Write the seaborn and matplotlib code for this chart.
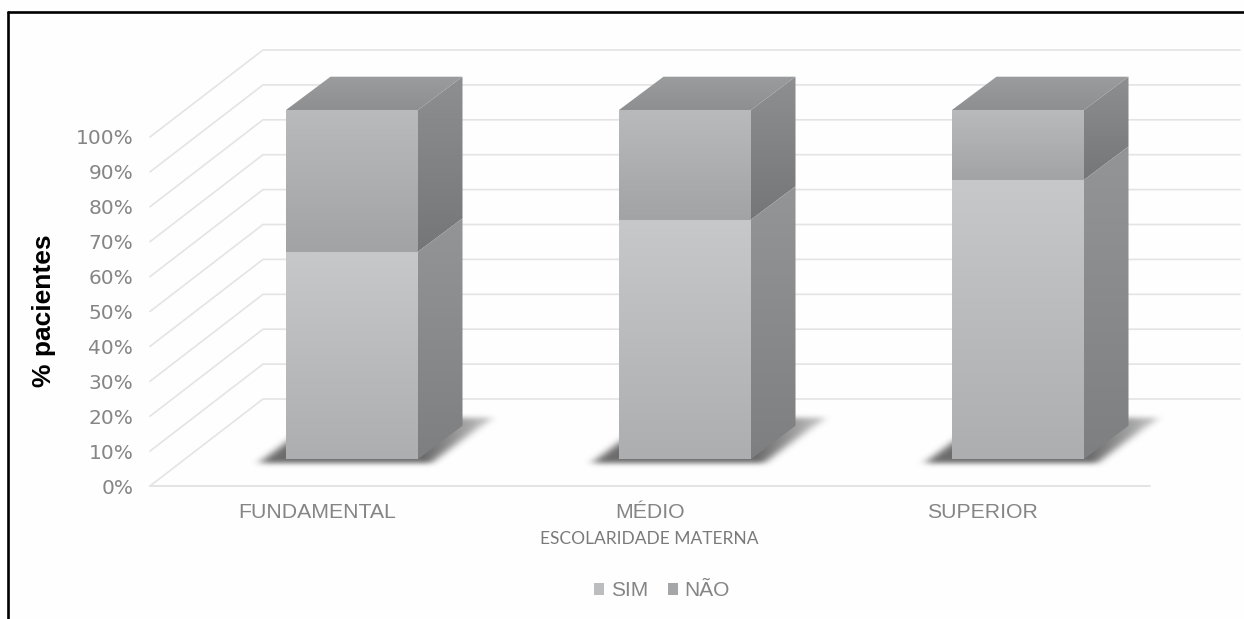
import numpy as np
import pandas as pd
import matplotlib
matplotlib.use("Agg")
import matplotlib.pyplot as plt
import seaborn as sns
from matplotlib.colors import to_rgb, LinearSegmentedColormap
from matplotlib.lines import Line2D
from matplotlib.patches import Patch, Polygon
from matplotlib.transforms import ScaledTranslation

categories = ["FUNDAMENTAL", "MÉDIO", "SUPERIOR"]
sim_values = [59.4, 68.6, 80.0]
nao_values = [40.6, 31.4, 20.0]
y_ticks = list(range(0, 101, 10))
y_tick_labels = [f"{v}%" for v in y_ticks]

W, H, DPI = 1244, 619, 100
L_PX, R_PX, Y0_PX, Y100_PX = 150, 1150, 486, 137
PX_X = 333.0            # pixels per category
PX_Y = (Y0_PX - Y100_PX) / 100.0   # pixels per percent
BAR_W = 132 / PX_X
BASE = 27 / PX_Y        # bars stand on the floor, set back from the front edge
BDX, BDY = 44.5 / PX_X, 33.3 / PX_Y   # bar depth
WDX, WDY = 113 / PX_X, 87 / PX_Y      # wall depth

sns.set_theme(style="white")
fig = plt.figure(figsize=(W / DPI, H / DPI), dpi=DPI, facecolor="#fefefe")
ax = fig.add_axes([L_PX / W, 1 - Y0_PX / H, (R_PX - L_PX) / W, (Y0_PX - Y100_PX) / H])
ax.patch.set_alpha(0)

df = pd.DataFrame({"cat": categories, "sim": sim_values,
                   "total": np.add(sim_values, nao_values)})
sns.barplot(df, x="cat", y="total", bottom=BASE, width=BAR_W, color="#adaeb0",
            saturation=1, ax=ax, order=categories, zorder=4, linewidth=0)
n_total = len(ax.patches)
sns.barplot(df, x="cat", y="sim", bottom=BASE, width=BAR_W, color="#bdbec0",
            saturation=1, ax=ax, order=categories, zorder=4, linewidth=0)

XLIM = (-(352 - L_PX) / PX_X, (R_PX - 352) / PX_X)
ax.set_xlim(*XLIM)
ax.set_ylim(0, 100)


def grad_face(verts, top, bottom, z):
    verts = np.asarray(verts)
    c0, c1 = np.array(to_rgb(top)), np.array(to_rgb(bottom))
    cmap = LinearSegmentedColormap.from_list("g", [c0, c1])
    im = ax.imshow(np.linspace(0, 1, 128)[:, None], cmap=cmap, aspect="auto",
                   extent=(verts[:, 0].min(), verts[:, 0].max(),
                           verts[:, 1].min(), verts[:, 1].max()),
                   origin="upper", zorder=z)
    poly = Polygon(verts, closed=True, transform=ax.transData,
                   fc="none", ec="none")
    im.set_clip_box(fig.bbox)
    im.set_clip_path(poly)


def box_blur(a, r, axis):
    kernel = np.ones(2 * r + 1) / (2 * r + 1)
    return np.apply_along_axis(lambda m: np.convolve(m, kernel, mode="same"), axis, a)


def soft_shadow(x0, x1, y0):
    """Blurred parallelogram on the floor, in pixels relative to the bar's base."""
    w_px = (x1 - x0) * PX_X
    us = np.arange(-70, w_px + 120)
    vs = np.arange(-25, 75)
    U, V = np.meshgrid(us, vs)
    bottom, top = -4, 41
    slope = 1.33
    left = -27 + slope * (V - bottom)
    right = w_px + 14 + slope * (V - bottom)
    mask = ((V >= bottom) & (V <= top) & (U >= left) & (U <= right)).astype(float)
    for _ in range(3):
        mask = box_blur(mask, 4, 1)
    for _ in range(3):
        mask = box_blur(mask, 2, 0)
    # a little softer towards the far right end
    fade = np.clip(1.05 - (U - w_px) / 110.0, 0.5, 1.0)
    rgba = np.zeros(mask.shape + (4,))
    rgba[..., :3] = 0.42
    rgba[..., 3] = np.clip(mask * fade, 0, 1)
    ax.imshow(rgba, origin="lower", aspect="auto", zorder=2,
              extent=(x0 + us[0] / PX_X, x0 + us[-1] / PX_X,
                      y0 + vs[0] / PX_Y, y0 + vs[-1] / PX_Y),
              clip_on=False)


# gridlines on the floor / back wall
grid_c = "#e4e4e4"
for v in y_ticks:
    xs = [XLIM[0], XLIM[0] + WDX, XLIM[1] + 90 / PX_X]
    ys = [v, v + WDY, v + WDY]
    ax.plot(xs, ys, color=grid_c, lw=1.2, clip_on=False, zorder=1)
ax.plot(XLIM, [0, 0], color=grid_c, lw=1.4, clip_on=False, zorder=1)

# soft shadows under bars and 3D faces
patches = list(ax.patches)
for i, cat in enumerate(categories):
    total_bar = patches[i]
    sim_bar = patches[n_total + i]
    x0 = total_bar.get_x()
    x1 = x0 + total_bar.get_width()
    y0 = total_bar.get_y()
    ytop = y0 + total_bar.get_height()
    ysplit = y0 + sim_bar.get_height()

    soft_shadow(x0, x1, y0)

    # front faces with vertical gradient
    grad_face([(x0, ysplit), (x1, ysplit), (x1, ytop), (x0, ytop)], "#b9babc", "#a2a3a5", 5)
    grad_face([(x0, y0), (x1, y0), (x1, ysplit), (x0, ysplit)], "#c7c8c9", "#adaeb0", 5)
    # side faces
    grad_face([(x1, ysplit), (x1 + BDX, ysplit + BDY), (x1 + BDX, ytop + BDY), (x1, ytop)],
              "#8e8f91", "#757678", 5)
    grad_face([(x1, y0), (x1 + BDX, y0 + BDY), (x1 + BDX, ysplit + BDY), (x1, ysplit)],
              "#949597", "#7e7f81", 5)
    # top face
    grad_face([(x0, ytop), (x1, ytop), (x1 + BDX, ytop + BDY), (x0 + BDX, ytop + BDY)],
              "#9b9c9e", "#8e8f91", 5)
    total_bar.set_visible(False)
    sim_bar.set_visible(False)

# axes text
sns.despine(ax=ax, left=True, bottom=True, top=True, right=True)
ax.set_yticks(y_ticks, y_tick_labels)
ax.set_xticks(range(len(categories)), categories)
ax.tick_params(axis="both", length=0)
ax.tick_params(axis="y", pad=12, labelsize=14.5, labelcolor="#858585")
ax.tick_params(axis="x", pad=12, labelsize=15.3, labelcolor="#858585")
shift = ScaledTranslation(-35 / DPI, 0, fig.dpi_scale_trans)
for lab in ax.get_xticklabels():
    lab.set_fontfamily("Liberation Sans")
    lab.set_transform(lab.get_transform() + shift)
for lab in ax.get_yticklabels():
    lab.set_fontfamily("DejaVu Sans")

ax.set_xlabel("ESCOLARIDADE MATERNA", fontsize=12.5, color="#7a7a7a",
              fontfamily="Lato", labelpad=7, x=0.499)
ax.set_ylabel("")
fig.text(44 / W, 1 - 311 / H, "% pacientes", rotation=90, ha="center", va="center",
         fontsize=19, fontweight="bold", color="black", fontfamily="Liberation Sans")

handles = [Patch(fc="#bcbdbf", ec="none", label="SIM"),
           Patch(fc="#a5a6a8", ec="none", label="NÃO")]
leg = ax.legend(handles=handles, ncol=2, loc="center",
                bbox_to_anchor=(662 / W, 1 - 591 / H), bbox_transform=fig.transFigure,
                frameon=False, handlelength=0.5, handleheight=0.5, handletextpad=0.3,
                columnspacing=0.96, prop={"family": "Liberation Sans", "size": 15})
for t in leg.get_texts():
    t.set_color("#858585")

# black frame: top and left edges
fig.add_artist(Line2D([8 / W, 8 / W], [0, 1 - 12 / H], color="black", lw=1.9,
                      transform=fig.transFigure))
fig.add_artist(Line2D([8 / W, 1], [1 - 12 / H, 1 - 12 / H], color="black", lw=1.9,
                      transform=fig.transFigure))

fig.savefig("out.png", dpi=DPI, facecolor=fig.get_facecolor())
